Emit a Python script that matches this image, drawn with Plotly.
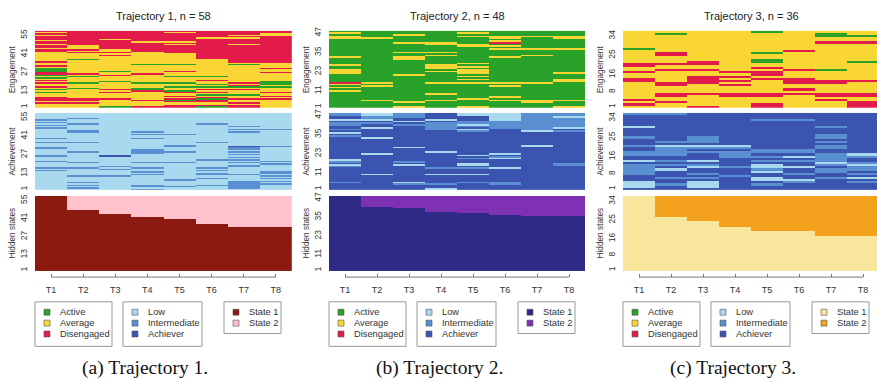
import plotly.graph_objects as go

W, H = 877, 381


def fx(p):
    return p / W


def fy(p):
    return 1 - p / H


# ---------------------------------------------------------------- data
TIMES = ["T1", "T2", "T3", "T4", "T5", "T6", "T7", "T8"]
TRAJ_TITLES = ["Trajectory 1, n = 58", "Trajectory 2, n = 48", "Trajectory 3, n = 36"]
CAPTIONS = ["(a) Trajectory 1.", "(b) Trajectory 2.", "(c) Trajectory 3."]
N_STUDENTS = [58, 48, 36]
ROW_TICKS = [[1, 13, 27, 41, 55], [1, 11, 23, 35, 47], [1, 8, 16, 25, 34]]

ENG_STATES = ["Active", "Average", "Disengaged"]
ENG_CODES = "AVD"
ACH_STATES = ["Low", "Intermediate", "Achiever"]
ACH_CODES = "LIX"
HIDDEN_STATES = ["State 1", "State 2"]

# one string per time point, students from row 1 (bottom) upwards
ENG_1 = [
    "VVVDVDDDVV VAVAVDVVDV DVAVADDAAA VDVVDVVVVV VVDDVDDVDD VDDDVDVD",
    "VVVDVDDVVV VVVVAVVVAV VVVAVDVVVV VVVVVVAVVV VDVDVVVDDD DDDDDDDD",
    "AVVVVVDVVV VDVDVVVVVA VVVVDVVAVV VVVVVVVVVD VDVVDDDDDD DVDDDDDD",
    "DVVVVDVVVV VVDAAVVVAV VVVVVDVVVV VVAVVVVVVV VVDDDDDDDV DDDDDDDD",
    "DDVVDADVDV VDAVVAVVAV VVVAVVVDVV VVAVVVVVVV VDDDDDDVDV DDDDDDVD",
    "ADVVDDADVA VDVDVAVAVV DVVAVVVVVV VVVVVVVDDD DDDDDDDDDD DDVDDDDD",
    "DDVDVVDVVA VVVDVADVDV VVVVVVVVVV VVAVDDDDDD DDDDDDDVDD DDVDVDDD",
    "VVVVVVDVDV VDVVVAVAAA VVVVVVDVVD VVVVDDDDDD DDDDDDDDDD DDDDVVDD",
]
ACH_1 = [
    "LLLLLLLLLL LLLLILILLL LILLLILLLL LILLLILLIL LLLLLLILIL ILILLLLL",
    "LILILILLLL ILLLLLILLL ILLLLLLLIL LLLLLILLLL LLLIILLLLI LLLILLLL",
    "LLLLLLLLLL ILLLLILILL LLLLLXLLLL LLLLLLLLLL LLLLLLLLLL LLLLLLLL",
    "ILIILLLLLL LILILLILLL ILLLLLLIII ILLLLLLLIL LILILLLLLL LLLLLLLL",
    "LLILLLLILL LLLLLLLLLL ILLLLLLLIL LLIILLLLLL LILLLLLLLL LLLLLLLL",
    "LLLILLLLIL LIILILILLL LLILLLLLLL LLLLLILLLL LLLLLLLLLI LLLLLLLL",
    "LIIIIIILLL LILLLLLIIL ILILILILIL IIXLLLLLLL LLLILILILL LLLLLLLL",
    "LLLLILILIL ILIILLLLLI LILLLLLLLL LLILLLLLLL LLLLLILLLL LLLLLLLL",
]
STATE2_1 = [0, 11, 14, 16, 18, 22, 24, 24]

ENG_2 = [
    "AAAAAAAAAA VAVAVDAAAA AVVVAAVAAA AVAAAAAAAA AAAVVAVA",
    "AAAAVAAAAA AAAVAVAAAA AAAAAAAAAA AAAAAAAAAA AAAVAAAA",
    "VAAVAAAAAA AAAAAAAAAA VAAAAAAAAA VVAAVAAAAA VAAAAVAA",
    "AAAAVAAAVA AAAAAVAAAA AAVAVVVAAA AAVAVAAAAV VAAAAAAA",
    "VAAAAVAAAA AAAAAVAVAV AVVVAVAVAA AAAAAAAAVV AAAAVAVA",
    "AAAAVAVAAA AAAVAVAAAA AAAAAAAAAA AVAAAAVAVA DVAVVAAA",
    "AAAVVAAAAA AAAAAVAAAA AAAAAAAAAA AAVAAAVAAA AAAAVAAA",
    "VAAAVAAAAA AAAAAAVVAA AVAAAAAAAA AAAAAAVAAA AAAVVAAA",
]
ACH_2 = [
    "XXXXIXXXXX XXXXILXILX XXXXXXXXXX XXXIXLXIXX IIXLXXII",
    "XXXXXXXXXL XXXXXXXXXX XXLXXXXXXX XXLXXXXXLX XIXLIILL",
    "XXXILXXXXX XXXXXLXIXX XXXXXXLXXX XXXXXXXXXX IXLXXIII",
    "LXXIXXXXXL XXXIXXXXXX XXXLXXXXXX XXXXXXXIII IIXLXXXX",
    "XXXXIXXXXL XXXIXLLXXI XLXXXXXXXX XXXXXXILXI LIIXXXLL",
    "XXXIIXXXXX XXXLXXXXXL IXLXXXXXXX XXXXXXXXII IIILLLLL",
    "XXXXXXXXXX XXXXXXXXXX XXXXXXXLXX XXXXXXLIII IIIIIIII",
    "XXXXXXXXXX XXXXXIIXXX XXXXXXXXXX XXXXXXIXLI IIIIILII",
]
STATE2_2 = [0, 7, 8, 10, 11, 12, 13, 13]

ENG_3 = [
    "VDVDVVVVVV VVDDVVDVVD DVVVVVVAVV VVVVVV",
    "VVDVVDDVVV DDVVVVVDVV DVVVDDVVVV VVVVAV",
    "DVVVVVDVVV VDDDDVVDVV DDVVVVVVVV VVVVVV",
    "VVVVVDDVVV DVDVDVDVVV VVVVVVVVVV VVVVVV",
    "DDVVVDDVVV VVVDVDDVDV VAAVVAVVVV VVVVVA",
    "VVVVVVDVDV VDDDVVVDVV VVVVVVDVVV VVVVVV",
    "VVVDVDDVVV VDDVVVVAVV VVVVVVVVVV DVVAAV",
    "DDDVVDDVVV VVDVVVVVVV VAVVVVVVVV DVVAVV",
]
ACH_3 = [
    "XLLLXXXIII IIXLXXIIXX IXXXIXXXXL XXXXXI",
    "XXIXXIXXXL XIXIXXIIII LXIXXXXXXX XXXXXI",
    "XLLLXIXIXX LIXLXXXIXI LXIIIXXXXX XXXXXX",
    "XXXXXXIXXX IXXXXIIIXI LXXXXXXXXX XXXXXX",
    "XXIXLLXXLI LLXIXIXIIX XXXXXXXXXX XXIXXX",
    "XXXILXXIXX LXXIXLXIIX XXXXXXXXXX XXIXXX",
    "XXXXXIXXII XILIIIIXXI IXIXIIXXXI XXXXXX",
    "XXXIXLXIXI ILIXXILXXX XXXXXXXXXX XXXXXX",
]
STATE2_3 = [0, 10, 12, 15, 17, 17, 19, 19]

ENGAGEMENT = [ENG_1, ENG_2, ENG_3]
ACHIEVEMENT = [ACH_1, ACH_2, ACH_3]
STATE2_COUNTS = [STATE2_1, STATE2_2, STATE2_3]

# ---------------------------------------------------------------- style
ENG_COLORS = ["#29a229", "#f9d633", "#e31b4b"]
ACH_COLORS = ["#a9d9ef", "#5a8fd1", "#3a54b0"]
HIDDEN_COLORS = [["#8b1a10", "#ffc1cc"], ["#2e2a86", "#7e31b2"], ["#f9e69d", "#f4a11e"]]

FONT = "Liberation Sans, Arial, sans-serif"
SERIF = "Liberation Serif, Times New Roman, serif"
TXT = "#333333"

PANEL_LEFT = [35, 329, 623]
CELL_W = [32.1, 32.0, 32.0]
ROW_BANDS = [(27, 105), (110, 188), (194, 270)]   # pixel top/bottom of the three channels
CHANNEL_TITLES = ["Engagement", "Achievement", "Hidden states"]
AXIS_Y = 276


def to_matrix(columns, codes):
    cols = ["".join(c.split()) for c in columns]
    n = len(cols[0])
    return [[codes.index(cols[t][r]) for t in range(len(cols))] for r in range(n)]


def hidden_matrix(n, state2):
    return [[1 if r >= n - k else 0 for k in state2] for r in range(n)]


def discrete_scale(colors):
    k = len(colors)
    scale = []
    for i, c in enumerate(colors):
        scale += [[i / k, c], [(i + 1) / k, c]]
    return scale


fig = go.Figure()
layout = {}
shapes = []
annotations = []

for p in range(3):
    n = N_STUDENTS[p]
    left = PANEL_LEFT[p]
    cw = CELL_W[p]
    right = min(left + 8 * cw, W)
    x_end = 0.5 + (right - left) / cw
    center = left + 4 * cw

    matrices = [
        (to_matrix(ENGAGEMENT[p], ENG_CODES), ENG_COLORS),
        (to_matrix(ACHIEVEMENT[p], ACH_CODES), ACH_COLORS),
        (hidden_matrix(n, STATE2_COUNTS[p]), HIDDEN_COLORS[p]),
    ]
    for c, (z, colors) in enumerate(matrices):
        idx = p * 3 + c + 1
        xa = "x" if idx == 1 else f"x{idx}"
        ya = "y" if idx == 1 else f"y{idx}"
        fig.add_trace(go.Heatmap(
            z=z, x=list(range(1, 9)), y=list(range(1, n + 1)),
            xaxis=xa, yaxis=ya,
            colorscale=discrete_scale(colors), zmin=-0.5, zmax=len(colors) - 0.5,
            showscale=False, hoverinfo="skip", xgap=0, ygap=0,
        ))
        top, bottom = ROW_BANDS[c]
        xkey = "xaxis" if idx == 1 else f"xaxis{idx}"
        ykey = "yaxis" if idx == 1 else f"yaxis{idx}"
        xdict = dict(domain=[fx(left), fx(right)], range=[0.5, x_end],
                     showgrid=False, zeroline=False, showline=False,
                     fixedrange=True)
        if c == 2:
            xdict.update(anchor="free", position=fy(AXIS_Y), ticks="inside",
                         ticklen=3, tickwidth=1, tickcolor="#777777",
                         tickvals=list(range(1, 9)), ticktext=TIMES,
                         ticklabelstandoff=6,
                         tickfont=dict(family=FONT, size=9, color=TXT))
        else:
            xdict.update(anchor=ya, showticklabels=False, ticks="")
        layout[xkey] = xdict
        layout[ykey] = dict(domain=[fy(bottom), fy(top)], range=[0.5, n + 0.5],
                            anchor=xa, showgrid=False, zeroline=False,
                            showline=False, ticks="", tickvals=ROW_TICKS[p],
                            tickangle=-90, ticklabelstandoff=5,
                            tickfont=dict(family=FONT, size=8.5, color=TXT),
                            fixedrange=True)
        annotations.append(dict(
            x=fx(left - 23), y=fy((top + bottom) / 2), xref="paper", yref="paper",
            text=CHANNEL_TITLES[c], textangle=-90, showarrow=False,
            font=dict(family=FONT, size=8.3, color=TXT),
            xanchor="center", yanchor="middle"))

    # axis line between the first and last time point
    xa3 = f"x{p * 3 + 3}"
    shapes.append(dict(type="line", xref=xa3, yref="paper", x0=1, x1=8,
                       y0=fy(AXIS_Y), y1=fy(AXIS_Y),
                       line=dict(color="#777777", width=1)))

    annotations.append(dict(
        x=fx(center), y=fy(12), xref="paper", yref="paper", text=TRAJ_TITLES[p],
        showarrow=False, font=dict(family=FONT, size=11, color="#222222"),
        xanchor="center", yanchor="middle"))
    annotations.append(dict(
        x=fx(center - 18), y=fy(368), xref="paper", yref="paper", text=CAPTIONS[p],
        showarrow=False, font=dict(family=SERIF, size=19.5, color="#111111"),
        xanchor="center", yanchor="middle"))

    # legend boxes under each panel
    boxes = [
        (0, 77, 346, ENG_STATES, ENG_COLORS),
        (88, 167, 346, ACH_STATES, ACH_COLORS),
        (189, 246, 333, HIDDEN_STATES, HIDDEN_COLORS[p]),
    ]
    for bx0, bx1, by1, labels, colors in boxes:
        x0 = left + bx0
        shapes.append(dict(type="rect", xref="paper", yref="paper",
                           x0=fx(x0), x1=fx(left + bx1), y0=fy(by1), y1=fy(301),
                           line=dict(color="#999999", width=1)))
        for k, (lab, col) in enumerate(zip(labels, colors)):
            yc = 311.5 + k * 11
            shapes.append(dict(type="rect", xref="paper", yref="paper",
                               x0=fx(x0 + 9), x1=fx(x0 + 15),
                               y0=fy(yc + 3), y1=fy(yc - 3),
                               fillcolor=col, line=dict(color="#555555", width=0.6)))
            annotations.append(dict(
                x=fx(x0 + 23), y=fy(yc), xref="paper", yref="paper", text=lab,
                showarrow=False, font=dict(family=FONT, size=9.3, color=TXT),
                xanchor="left", yanchor="middle"))

fig.update_layout(
    width=W, height=H, margin=dict(l=0, r=0, t=0, b=0),
    paper_bgcolor="white", plot_bgcolor="white",
    showlegend=False, shapes=shapes, annotations=annotations,
    **layout,
)

fig.write_html("out.html")
